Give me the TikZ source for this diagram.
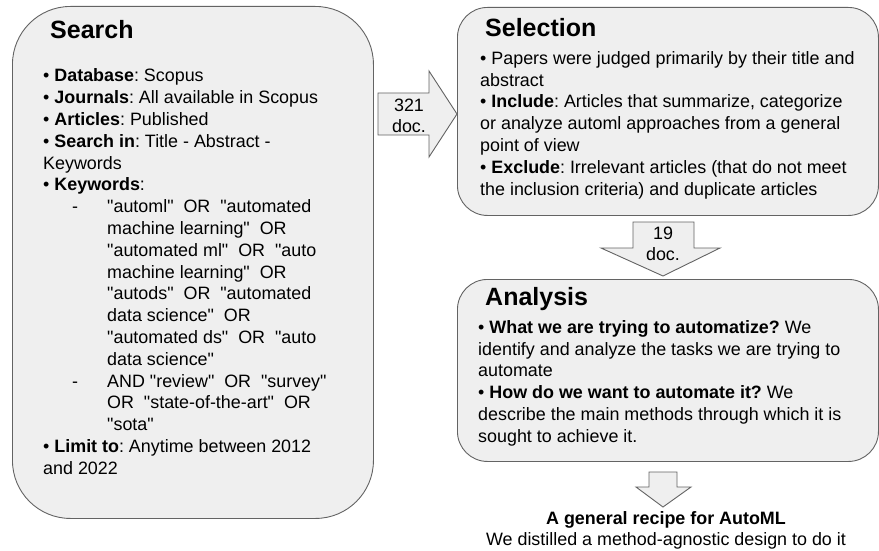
\documentclass[tikz,border=0pt]{standalone}
\usepackage{fontspec}
\setmainfont{Liberation Sans}[Ligatures=TeXOff]
\definecolor{boxfill}{HTML}{EFEFEF}
\definecolor{boxline}{HTML}{636363}
\newcommand\kwdash{\hspace*{29pt}\makebox[35pt][l]{-}}
\newcommand\kwind{\hspace*{64pt}}
\tikzset{
	box/.style={draw=boxline, fill=boxfill, line width=0.9pt, anchor=north west, inner sep=0pt},
	blkarrow/.style={draw=boxline, fill=boxfill, line width=0.9pt},
	title/.style={anchor=base west, inner sep=0pt, font=\fontsize{25}{29}\selectfont\bfseries},
	body/.style={anchor=base west, inner sep=0pt, font=\fontsize{17.9}{21.8}\selectfont\frenchspacing}
}
\begin{document}
\begin{tikzpicture}[x=1pt,y=-1pt]
		\useasboundingbox (0,0) rectangle (879,551);
		\node[box, rounded corners=58pt, minimum width=361pt, minimum height=512pt] (search) at (12,6) {};
		\node[box, rounded corners=30pt, minimum width=421pt, minimum height=208pt] (selection) at (457,7) {};
		\node[box, rounded corners=30pt, minimum width=421pt, minimum height=182pt] (analysis) at (457,279) {};
		\node[title] (searchtitle) at (50,38.5) {Search};
		\node[title] (selectiontitle) at (485,37) {Selection};
		\node[title] (analysistitle) at (485,305) {Analysis};
		\node[body] (searchtext) at (43,82) {\parbox[t]{320pt}{\raggedright
			• \textbf{Database}: Scopus\\
			• \textbf{Journals}: All available in Scopus\\
			• \textbf{Articles}: Published\\
			• \textbf{Search in}: Title - Abstract -\\
			Keywords\\
			• \textbf{Keywords}:\\
			\kwdash"automl"\ \ OR\ \ "automated\\
			\kwind machine learning"\ \ OR\\
			\kwind"automated ml"\ \ OR\ \ "auto\\
			\kwind machine learning"\ \ OR\\
			\kwind"autods"\ \ OR\ \ "automated\\
			\kwind data science"\ \ OR\\
			\kwind"automated ds"\ \ OR\ \ "auto\\
			\kwind data science"\\
			\kwdash AND "review"\ \ OR\ \ "survey"\\
			\kwind OR\ \ "state-of-the-art"\ \ OR\\
			\kwind"sota"\\
			• \textbf{Limit to}: Anytime between 2012\\
			and 2022}};
		\node[body] (selectiontext) at (480,64.3) {\parbox[t]{395pt}{\raggedright
			• Papers were judged primarily by their title and\\
			abstract\\
			• \textbf{Include}: Articles that summarize, categorize\\
			or analyze automl approaches from a general\\
			point of view\\
			• \textbf{Exclude}: Irrelevant articles (that do not meet\\
			the inclusion criteria) and duplicate articles}};
		\node[body] (analysistext) at (478,333.3) {\parbox[t]{395pt}{\raggedright
			• \textbf{What we are trying to automatize?} We\\
			identify and analyze the tasks we are trying to\\
			automate\\
			• \textbf{How do we want to automate it?} We\\
			describe the main methods through which it is\\
			sought to achieve it.}};
		\draw[blkarrow] (378,93) -- (429,93) -- (429,71) -- (457,114) -- (429,157) -- (429,135) -- (378,135) -- cycle;
		\draw[blkarrow] (633,222) -- (694,222) -- (694,248) -- (720,248) -- (663,276) -- (601,248) -- (633,248) -- cycle;
		\draw[blkarrow] (649,472) -- (677,472) -- (677,487) -- (691,487) -- (663,507) -- (636,487) -- (649,487) -- cycle;
		\node[body, anchor=base] (docsone) at (409,111) {\parbox[t]{60pt}{\centering 321\\doc.}};
		\node[body, anchor=base] (docstwo) at (663,239) {\parbox[t]{60pt}{\centering 19\\doc.}};
		\node[body, anchor=base] (recipe) at (666,524) {\parbox[t]{420pt}{\centering
			\textbf{A general recipe for AutoML}\\
			We distilled a method-agnostic design to do it}};
		\end{tikzpicture}
\end{document}
